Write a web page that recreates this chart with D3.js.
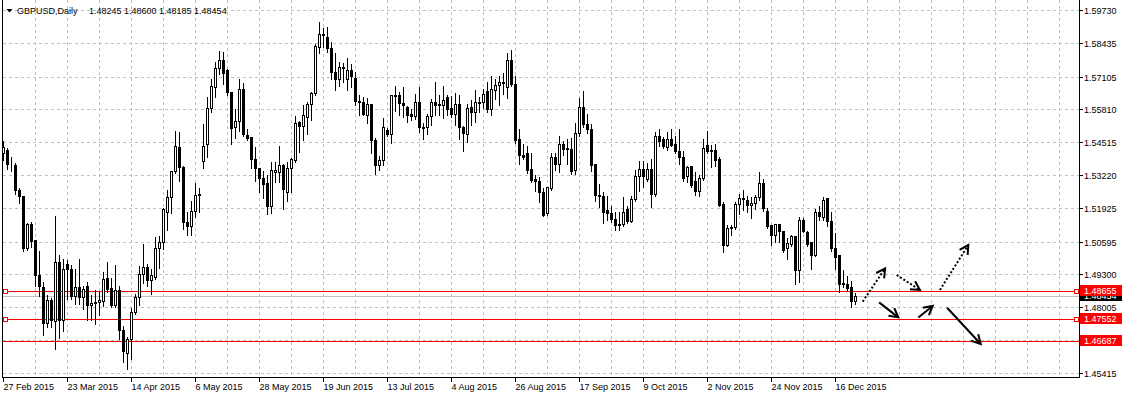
<!DOCTYPE html>
<html>
<head>
<meta charset="utf-8">
<script src="https://cdn.jsdelivr.net/npm/d3@7/dist/d3.min.js"></script>
<style>
body { margin: 0; background: #fff; }
svg { display: block; }
text { font-family: Tahoma, "Liberation Sans", Arial, sans-serif; font-size: 9px; }
</style>
</head>
<body>
<script>
// GBPUSD daily bars, 27 Feb 2015 .. Dec 2015 (one value per bar)
var open = [1.5409,1.5422,1.5363,1.5363,1.5264,1.5241,1.5033,1.5130,1.5066,1.4929,1.4881,1.4738,1.4830,1.4747,1.4979,1.4750,1.4971,1.4953,1.4847,1.4881,
1.4843,1.4885,1.4808,1.4817,1.4821,1.4824,1.4918,1.4876,1.4808,1.4868,1.4711,1.4620,1.4676,1.4781,1.4840,1.4931,1.4958,1.4907,1.4922,1.5034,
1.5058,1.5176,1.5234,1.5339,1.5434,1.5355,1.5137,1.5120,1.5179,1.5247,1.5379,1.5445,1.5587,1.5669,1.5743,1.5774,1.5738,1.5650,1.5510,1.5534,
1.5663,1.5481,1.5474,1.5386,1.5350,1.5311,1.5291,1.5199,1.5336,1.5336,1.5363,1.5255,1.5350,1.5382,1.5530,1.5516,1.5550,1.5603,1.5646,1.5828,
1.5874,1.5867,1.5824,1.5729,1.5701,1.5749,1.5701,1.5738,1.5705,1.5616,1.5611,1.5558,1.5604,1.5459,1.5363,1.5380,1.5501,1.5484,1.5633,1.5636,
1.5607,1.5592,1.5561,1.5554,1.5611,1.5512,1.5510,1.5554,1.5611,1.5603,1.5598,1.5630,1.5587,1.5563,1.5603,1.5510,1.5484,1.5590,1.5571,1.5608,
1.5611,1.5655,1.5583,1.5659,1.5676,1.5689,1.5670,1.5774,1.5683,1.5466,1.5403,1.5411,1.5347,1.5305,1.5297,1.5255,1.5171,1.5272,1.5394,1.5366,
1.5445,1.5429,1.5425,1.5342,1.5489,1.5592,1.5524,1.5505,1.5366,1.5245,1.5241,1.5186,1.5174,1.5150,1.5130,1.5129,1.5188,1.5142,1.5226,1.5318,
1.5346,1.5308,1.5346,1.5247,1.5478,1.5465,1.5432,1.5466,1.5445,1.5418,1.5393,1.5317,1.5357,1.5300,1.5258,1.5309,1.5442,1.5422,1.5422,1.5387,
1.5209,1.5047,1.5113,1.5116,1.5208,1.5232,1.5225,1.5203,1.5212,1.5234,1.5291,1.5182,1.5126,1.5084,1.5129,1.5103,1.5034,1.5051,1.5080,1.4949,
1.5146,1.5097,1.5057,1.5008,1.5176,1.5155,1.5232,1.5142,1.5034,1.5005,1.4892,1.4892,1.4880,1.48245];

var high = [1.5462,1.5433,1.5397,1.5375,1.5274,1.5245,1.5137,1.5141,1.5071,1.5028,1.4903,1.4854,1.4843,1.5166,1.5011,1.4995,1.4991,1.4971,1.4955,1.4996,
1.4887,1.4903,1.4853,1.4872,1.4868,1.4943,1.4982,1.4922,1.4970,1.4887,1.4729,1.4689,1.4800,1.4857,1.4968,1.5055,1.4975,1.4955,1.5083,1.5087,
1.5195,1.5268,1.5343,1.5501,1.5495,1.5360,1.5179,1.5222,1.5293,1.5275,1.5528,1.5633,1.5705,1.5771,1.5815,1.5811,1.5745,1.5655,1.5587,1.5703,
1.5689,1.5508,1.5478,1.5438,1.5353,1.5343,1.5326,1.5376,1.5376,1.5442,1.5370,1.5376,1.5392,1.5558,1.5541,1.5603,1.5616,1.5655,1.5844,1.5929,
1.5907,1.5909,1.5850,1.5808,1.5771,1.5768,1.5787,1.5764,1.5732,1.5642,1.5633,1.5630,1.5607,1.5471,1.5400,1.5550,1.5510,1.5640,1.5679,1.5655,
1.5675,1.5600,1.5587,1.5647,1.5672,1.5531,1.5567,1.5626,1.5692,1.5642,1.5679,1.5642,1.5636,1.5650,1.5640,1.5521,1.5607,1.5621,1.5662,1.5633,
1.5666,1.5692,1.5716,1.5703,1.5718,1.5729,1.5808,1.5821,1.5718,1.5508,1.5449,1.5442,1.5413,1.5326,1.5317,1.5274,1.5280,1.5413,1.5413,1.5479,
1.5462,1.5468,1.5471,1.5531,1.5630,1.5659,1.5567,1.5528,1.5370,1.5291,1.5258,1.5245,1.5205,1.5182,1.5179,1.5238,1.5205,1.5245,1.5345,1.5380,
1.5380,1.5374,1.5389,1.5497,1.5508,1.5475,1.5495,1.5508,1.5479,1.5508,1.5422,1.5363,1.5363,1.5337,1.5326,1.5468,1.5499,1.5445,1.5449,1.5399,
1.5221,1.5129,1.5129,1.5221,1.5251,1.5267,1.5245,1.5238,1.5247,1.5337,1.5311,1.5196,1.5129,1.5133,1.5133,1.5107,1.5076,1.5089,1.5087,1.5162,
1.5157,1.5107,1.5061,1.5192,1.5203,1.5238,1.5234,1.5182,1.5097,1.5008,1.4953,1.4929,1.4908,1.48600];

var low = [1.5387,1.5350,1.5342,1.5250,1.5216,1.5028,1.5030,1.5041,1.4889,1.4849,1.4697,1.4726,1.4725,1.4639,1.4685,1.4712,1.4837,1.4837,1.4817,1.4818,
1.4797,1.4753,1.4753,1.4738,1.4775,1.4808,1.4863,1.4804,1.4804,1.4679,1.4587,1.4563,1.4602,1.4780,1.4813,1.4899,1.4887,1.4857,1.4916,1.4959,
1.5034,1.5109,1.5176,1.5333,1.5301,1.5113,1.5089,1.5089,1.5162,1.5179,1.5353,1.5396,1.5574,1.5633,1.5726,1.5685,1.5640,1.5449,1.5471,1.5501,
1.5479,1.5466,1.5353,1.5304,1.5258,1.5234,1.5171,1.5176,1.5297,1.5297,1.5192,1.5225,1.5258,1.5376,1.5418,1.5466,1.5486,1.5543,1.5640,1.5807,
1.5830,1.5811,1.5703,1.5663,1.5676,1.5692,1.5663,1.5672,1.5603,1.5563,1.5561,1.5530,1.5413,1.5329,1.5346,1.5366,1.5482,1.5453,1.5578,1.5561,
1.5554,1.5537,1.5545,1.5547,1.5497,1.5468,1.5488,1.5524,1.5563,1.5561,1.5550,1.5561,1.5554,1.5524,1.5468,1.5422,1.5458,1.5524,1.5534,1.5574,
1.5590,1.5576,1.5563,1.5626,1.5603,1.5646,1.5629,1.5676,1.5453,1.5370,1.5390,1.5334,1.5297,1.5264,1.5218,1.5163,1.5168,1.5268,1.5347,1.5339,
1.5405,1.5370,1.5329,1.5330,1.5482,1.5514,1.5492,1.5343,1.5225,1.5199,1.5137,1.5150,1.5139,1.5110,1.5108,1.5126,1.5137,1.5139,1.5224,1.5262,
1.5278,1.5304,1.5199,1.5245,1.5442,1.5432,1.5426,1.5439,1.5413,1.5370,1.5301,1.5297,1.5280,1.5249,1.5245,1.5308,1.5413,1.5357,1.5361,1.5203,
1.5024,1.5045,1.5090,1.5113,1.5172,1.5188,1.5182,1.5155,1.5192,1.5229,1.5183,1.5116,1.5050,1.5063,1.5064,1.5024,1.4995,1.5047,1.4896,1.4903,
1.5100,1.5047,1.4955,1.5005,1.5150,1.5150,1.5124,1.5028,1.4955,1.4866,1.4883,1.4874,1.4804,1.48185];

var close = [1.5433,1.5366,1.5361,1.5262,1.5238,1.5033,1.5130,1.5064,1.4928,1.4883,1.4737,1.4829,1.4751,1.4979,1.4750,1.4953,1.4950,1.4847,1.4881,1.4843,
1.4871,1.4808,1.4817,1.4822,1.4828,1.4912,1.4874,1.4808,1.4868,1.4711,1.4630,1.4676,1.4781,1.4841,1.4931,1.4959,1.4907,1.4929,1.5034,1.5058,
1.5190,1.5234,1.5339,1.5438,1.5353,1.5137,1.5120,1.5179,1.5245,1.5242,1.5435,1.5587,1.5672,1.5745,1.5774,1.5725,1.5650,1.5508,1.5537,1.5663,
1.5484,1.5468,1.5386,1.5350,1.5311,1.5287,1.5199,1.5342,1.5343,1.5362,1.5266,1.5350,1.5387,1.5528,1.5517,1.5560,1.5604,1.5646,1.5830,1.5879,
1.5879,1.5824,1.5729,1.5701,1.5749,1.5745,1.5738,1.5712,1.5613,1.5611,1.5564,1.5604,1.5459,1.5363,1.5380,1.5512,1.5484,1.5637,1.5637,1.5607,
1.5600,1.5558,1.5554,1.5611,1.5510,1.5508,1.5554,1.5611,1.5600,1.5598,1.5618,1.5582,1.5561,1.5603,1.5510,1.5488,1.5587,1.5570,1.5611,1.5612,
1.5642,1.5584,1.5663,1.5676,1.5689,1.5684,1.5774,1.5683,1.5462,1.5400,1.5392,1.5343,1.5301,1.5297,1.5255,1.5166,1.5275,1.5394,1.5366,1.5445,
1.5426,1.5425,1.5339,1.5489,1.5592,1.5524,1.5505,1.5361,1.5242,1.5238,1.5176,1.5171,1.5149,1.5126,1.5125,1.5176,1.5142,1.5229,1.5318,1.5346,
1.5317,1.5346,1.5247,1.5478,1.5458,1.5436,1.5465,1.5442,1.5416,1.5393,1.5309,1.5354,1.5284,1.5258,1.5311,1.5429,1.5416,1.5416,1.5380,1.5205,
1.5045,1.5113,1.5118,1.5208,1.5232,1.5228,1.5203,1.5212,1.5236,1.5291,1.5192,1.5120,1.5084,1.5129,1.5100,1.5025,1.5054,1.5083,1.4949,1.5146,
1.5103,1.5050,1.5006,1.5176,1.5159,1.5224,1.5140,1.5034,1.4997,1.4892,1.4896,1.4876,1.4824,1.48454];

var priceTicks = [1.59730,1.58435,1.57105,1.55810,1.54515,1.53220,1.51925,1.50595,1.49300,1.48005,1.46710,1.45415];
var dateTicks = ["27 Feb 2015","23 Mar 2015","14 Apr 2015","6 May 2015","28 May 2015","19 Jun 2015","13 Jul 2015",
                 "4 Aug 2015","26 Aug 2015","17 Sep 2015","9 Oct 2015","2 Nov 2015","24 Nov 2015","16 Dec 2015"];
var levels = [1.48655, 1.47552, 1.46687];
var selectedLevels = [1.48655, 1.47552];
var bid = 1.48454;
var symbol = "GBPUSD,Daily";

// drawn arrows: [bar from, price from, bar to, price to]
var dottedArrows = [[214.8,1.4823,220.4,1.4954],[223.3,1.4928,229.1,1.4869],[234.1,1.4869,241.2,1.5046]];
var solidArrows = [[218.9,1.4820,223.7,1.4761],[228.7,1.4760,232.3,1.4806],[235.9,1.4799,244.3,1.4656]];

var W = 1122, H = 397;
var left = 3, right = 1079.5, bottom = 377.5;

var svg = d3.select('body').append('svg')
    .attr('width', W)
    .attr('height', H)
    .style('background', '#fff');

// scales
var x = d3.scaleLinear().domain([0, 269]).range([3.5, 1079.5]);
var y = d3.scaleLinear().domain([1.45415, 1.59730]).range([373, 10]);
var py = function(p){ return Math.round(y(p)) + 0.5; };

var bars = d3.range(open.length);

// grid
var grid = svg.append('g').attr('shape-rendering', 'crispEdges')
    .attr('stroke', '#c0c0c0').attr('stroke-dasharray', '3,3');

grid.selectAll('.hg').data(priceTicks)
  .enter().append('line')
    .attr('x1', left).attr('x2', right)
    .attr('y1', function(d){ return py(d); })
    .attr('y2', function(d){ return py(d); });

grid.selectAll('.vg').data(d3.range(8, 266, 8))
  .enter().append('line')
    .attr('x1', function(d){ return x(d); })
    .attr('x2', function(d){ return x(d); })
    .attr('y1', 0).attr('y2', bottom);

// bid line
svg.append('line')
    .attr('shape-rendering', 'crispEdges')
    .attr('x1', left).attr('x2', right)
    .attr('y1', py(bid)).attr('y2', py(bid))
    .attr('stroke', '#c0c0c0');

// level lines
svg.selectAll('.lvl').data(levels).enter().append('line')
    .attr('shape-rendering', 'crispEdges')
    .attr('x1', left).attr('x2', right)
    .attr('y1', function(d){ return py(d); })
    .attr('y2', function(d){ return py(d); })
    .attr('stroke', '#ff0000');

// candles
var candles = svg.append('g').attr('shape-rendering', 'crispEdges');

candles.selectAll('.wick').data(bars).enter().append('line')
    .attr('x1', function(i){ return x(i); })
    .attr('x2', function(i){ return x(i); })
    .attr('y1', function(i){ return py(high[i]); })
    .attr('y2', function(i){ return py(low[i]) + 1; })
    .attr('stroke', '#000');

candles.selectAll('.body').data(bars).enter().append('rect')
    .attr('x', function(i){ return x(i) - 1; })
    .attr('y', function(i){ return py(Math.max(open[i], close[i])); })
    .attr('width', 2)
    .attr('height', function(i){
      return Math.max(0, Math.round(y(Math.min(open[i], close[i]))) - Math.round(y(Math.max(open[i], close[i]))));
    })
    .attr('fill', function(i){ return close[i] >= open[i] ? '#fff' : '#000'; })
    .attr('stroke', '#000');

// arrows
function drawArrows(list, dash) {
  var g = svg.append('g').attr('stroke', '#000').attr('stroke-width', 2).attr('fill', 'none');
  list.forEach(function(a){
    var x0 = x(a[0]), y0 = y(a[1]), x1 = x(a[2]), y1 = y(a[3]);
    g.append('line')
      .attr('x1', x0).attr('y1', y0).attr('x2', x1).attr('y2', y1)
      .attr('stroke-dasharray', dash);
    var ang = Math.atan2(y1 - y0, x1 - x0), len = 10, spread = 0.5;
    var p = d3.path();
    p.moveTo(x1 - len*Math.cos(ang - spread), y1 - len*Math.sin(ang - spread));
    p.lineTo(x1, y1);
    p.lineTo(x1 - len*Math.cos(ang + spread), y1 - len*Math.sin(ang + spread));
    g.append('path').attr('d', p.toString());
  });
}
drawArrows(dottedArrows, '2,2');
drawArrows(solidArrows, null);

// selected level anchors
svg.selectAll('.anc').data(selectedLevels.concat(selectedLevels)).enter().append('rect')
    .attr('shape-rendering', 'crispEdges')
    .attr('x', function(d, i){ return i < selectedLevels.length ? 3.5 : 1074.5; })
    .attr('y', function(d){ return py(d) - 2; })
    .attr('width', 4).attr('height', 4)
    .attr('fill', '#fff').attr('stroke', '#ff0000');

// frame
var frame = svg.append('g').attr('shape-rendering', 'crispEdges').attr('stroke', '#000');
frame.append('line').attr('x1', 2.5).attr('x2', 2.5).attr('y1', 0).attr('y2', bottom);
frame.append('line').attr('x1', right).attr('x2', right).attr('y1', 0).attr('y2', bottom);
frame.append('line').attr('x1', 2).attr('x2', right).attr('y1', bottom).attr('y2', bottom);

// price axis
var yAxis = svg.append('g');
yAxis.selectAll('line').data(priceTicks).enter().append('line')
    .attr('shape-rendering', 'crispEdges')
    .attr('x1', right).attr('x2', right + 3)
    .attr('y1', function(d){ return py(d); })
    .attr('y2', function(d){ return py(d); })
    .attr('stroke', '#000');
yAxis.selectAll('text').data(priceTicks).enter().append('text')
    .attr('x', 1084)
    .attr('y', function(d){ return y(d) + 4; })
    .attr('fill', '#000')
    .text(function(d){ return d.toFixed(5); });

// bid label then level labels on top
function priceTag(p, bg) {
  svg.append('rect').attr('shape-rendering', 'crispEdges')
    .attr('x', 1080).attr('y', Math.round(y(p)) - 6)
    .attr('width', 42).attr('height', 11).attr('fill', bg);
  svg.append('text').attr('x', 1084).attr('y', y(p) + 3.5)
    .attr('fill', '#fff').text(p.toFixed(5));
}
priceTag(bid, '#000');
levels.forEach(function(p){ priceTag(p, '#ff0000'); });

// time axis
var xAxis = svg.append('g');
xAxis.selectAll('line').data(dateTicks).enter().append('line')
    .attr('shape-rendering', 'crispEdges')
    .attr('x1', function(d, i){ return x(i*16); })
    .attr('x2', function(d, i){ return x(i*16); })
    .attr('y1', bottom).attr('y2', bottom + 4)
    .attr('stroke', '#000');
xAxis.selectAll('text').data(dateTicks).enter().append('text')
    .attr('x', function(d, i){ return x(i*16); })
    .attr('y', 390)
    .attr('fill', '#000')
    .text(function(d){ return d; });

// header
var last = open.length - 1;
svg.append('path').attr('d', 'M6.5,9 L12.5,9 L9.5,12.5 Z').attr('fill', '#000');
svg.append('text').attr('x', 17).attr('y', 14).attr('fill', '#000').text(symbol);
svg.append('text').attr('x', 89).attr('y', 14).attr('fill', '#000')
    .text([open[last], high[last], low[last], close[last]].map(function(v){ return v.toFixed(5); }).join(' '));
</script>
</body>
</html>
